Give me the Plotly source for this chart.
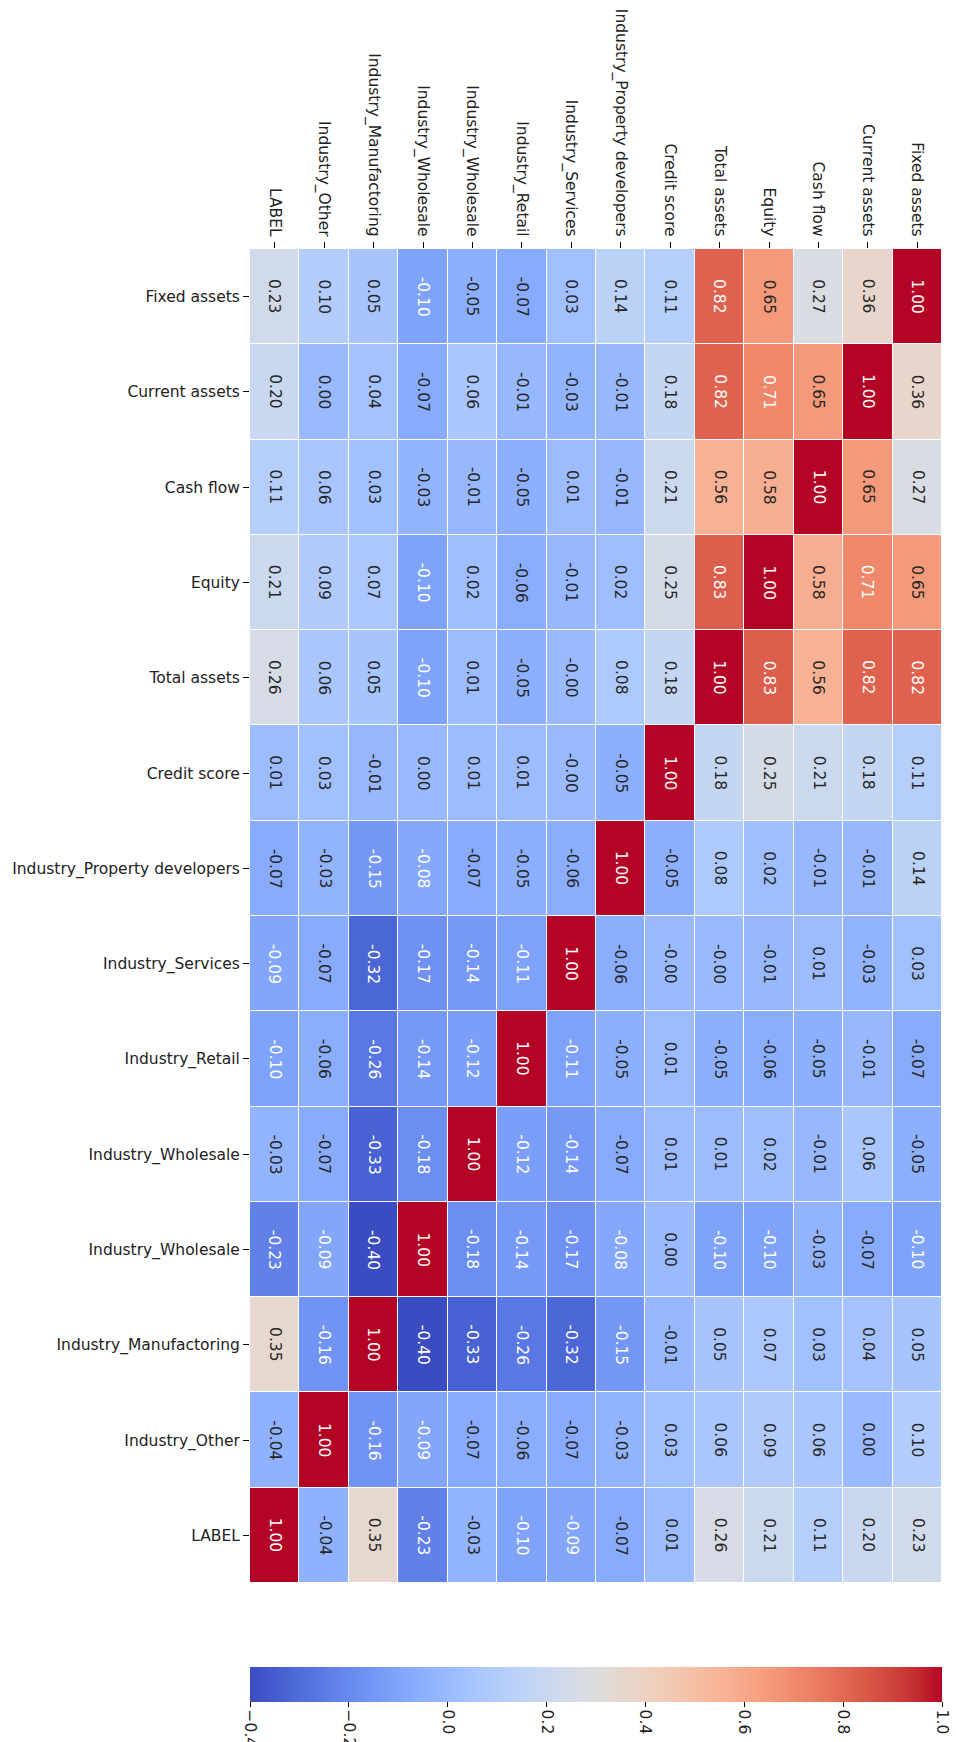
import plotly.graph_objects as go

# Correlation matrix of the credit-scoring features
row_labels = [
    "Fixed assets", "Current assets", "Cash flow", "Equity", "Total assets",
    "Credit score", "Industry_Property developers", "Industry_Services",
    "Industry_Retail", "Industry_Wholesale", "Industry_Wholesale",
    "Industry_Manufactoring", "Industry_Other", "LABEL",
]
col_labels = [
    "LABEL", "Industry_Other", "Industry_Manufactoring", "Industry_Wholesale",
    "Industry_Wholesale", "Industry_Retail", "Industry_Services",
    "Industry_Property developers", "Credit score", "Total assets", "Equity",
    "Cash flow", "Current assets", "Fixed assets",
]

fixed_assets = [0.23, 0.10, 0.05, -0.10, -0.05, -0.07, 0.03, 0.14, 0.11, 0.82, 0.65, 0.27, 0.36, 1.00]
current_assets = [0.20, 0.00, 0.04, -0.07, 0.06, -0.01, -0.03, -0.01, 0.18, 0.82, 0.71, 0.65, 1.00, 0.36]
cash_flow = [0.11, 0.06, 0.03, -0.03, -0.01, -0.05, 0.01, -0.01, 0.21, 0.56, 0.58, 1.00, 0.65, 0.27]
equity = [0.21, 0.09, 0.07, -0.10, 0.02, -0.06, -0.01, 0.02, 0.25, 0.83, 1.00, 0.58, 0.71, 0.65]
total_assets = [0.26, 0.06, 0.05, -0.10, 0.01, -0.05, -0.0, 0.08, 0.18, 1.00, 0.83, 0.56, 0.82, 0.82]
credit_score = [0.01, 0.03, -0.01, 0.00, 0.01, 0.01, -0.0, -0.05, 1.00, 0.18, 0.25, 0.21, 0.18, 0.11]
ind_property = [-0.07, -0.03, -0.15, -0.08, -0.07, -0.05, -0.06, 1.00, -0.05, 0.08, 0.02, -0.01, -0.01, 0.14]
ind_services = [-0.09, -0.07, -0.32, -0.17, -0.14, -0.11, 1.00, -0.06, -0.0, -0.0, -0.01, 0.01, -0.03, 0.03]
ind_retail = [-0.10, -0.06, -0.26, -0.14, -0.12, 1.00, -0.11, -0.05, 0.01, -0.05, -0.06, -0.05, -0.01, -0.07]
ind_wholesale_a = [-0.03, -0.07, -0.33, -0.18, 1.00, -0.12, -0.14, -0.07, 0.01, 0.01, 0.02, -0.01, 0.06, -0.05]
ind_wholesale_b = [-0.23, -0.09, -0.40, 1.00, -0.18, -0.14, -0.17, -0.08, 0.00, -0.10, -0.10, -0.03, -0.07, -0.10]
ind_manufactoring = [0.35, -0.16, 1.00, -0.40, -0.33, -0.26, -0.32, -0.15, -0.01, 0.05, 0.07, 0.03, 0.04, 0.05]
ind_other = [-0.04, 1.00, -0.16, -0.09, -0.07, -0.06, -0.07, -0.03, 0.03, 0.06, 0.09, 0.06, 0.00, 0.10]
label_row = [1.00, -0.04, 0.35, -0.23, -0.03, -0.10, -0.09, -0.07, 0.01, 0.26, 0.21, 0.11, 0.20, 0.23]

corr = [
    fixed_assets, current_assets, cash_flow, equity, total_assets,
    credit_score, ind_property, ind_services, ind_retail, ind_wholesale_a,
    ind_wholesale_b, ind_manufactoring, ind_other, label_row,
]

cbar_ticks = [-0.4, -0.2, 0.0, 0.2, 0.4, 0.6, 0.8, 1.0]
ZMIN, ZMAX = -0.4, 1.0

# Diverging cool-warm colormap (Moreland), 33 evenly spaced stops
cw_rgb = [
    (59, 76, 192), (68, 90, 204), (77, 104, 215), (87, 117, 225), (98, 130, 234),
    (108, 142, 241), (119, 154, 247), (130, 165, 251), (141, 176, 254), (152, 185, 255),
    (163, 194, 255), (174, 201, 253), (184, 208, 249), (194, 213, 244), (204, 217, 238),
    (213, 219, 230), (221, 221, 221), (229, 216, 209), (236, 211, 197), (241, 204, 184),
    (245, 196, 173), (247, 187, 160), (247, 177, 148), (247, 166, 135), (244, 154, 123),
    (241, 141, 111), (236, 127, 99), (229, 112, 88), (222, 96, 77), (213, 80, 66),
    (203, 62, 56), (192, 40, 47), (180, 4, 38),
]
n_stops = len(cw_rgb)
colorscale = [[i / (n_stops - 1), "rgb(%d,%d,%d)" % c] for i, c in enumerate(cw_rgb)]


def cell_rgb(v):
    t = min(max((v - ZMIN) / (ZMAX - ZMIN), 0.0), 1.0) * (n_stops - 1)
    i = min(int(t), n_stops - 2)
    f = t - i
    a, b = cw_rgb[i], cw_rgb[i + 1]
    return [(a[k] + (b[k] - a[k]) * f) / 255.0 for k in range(3)]


def luminance(rgb):
    lin = [c / 12.92 if c <= 0.03928 else ((c + 0.055) / 1.055) ** 2.4 for c in rgb]
    return 0.2126 * lin[0] + 0.7152 * lin[1] + 0.0722 * lin[2]


FONT = "DejaVu Sans"
FS = 15.5
n_rows, n_cols = len(row_labels), len(col_labels)
xs = list(range(n_cols))
ys = list(range(n_rows))

fig = go.Figure(
    go.Heatmap(
        z=corr,
        x=xs,
        y=ys,
        zmin=ZMIN,
        zmax=ZMAX,
        colorscale=colorscale,
        xgap=1,
        ygap=1,
        hoverinfo="skip",
        colorbar=dict(
            orientation="h",
            x=0.5,
            xanchor="center",
            len=1.0,
            lenmode="fraction",
            y=-0.063,
            yanchor="top",
            thickness=35,
            thicknessmode="pixels",
            xpad=0,
            ypad=0,
            outlinewidth=0,
            tickvals=cbar_ticks,
            tickformat=".1f",
            tickangle=90,
            ticks="outside",
            ticklen=5,
            tickcolor="#000",
            tickfont=dict(family=FONT, size=FS, color="#222"),
        ),
    )
)

annotations = []
for r in range(n_rows):
    for c in range(n_cols):
        v = corr[r][c]
        txt_color = "#ffffff" if luminance(cell_rgb(v)) < 0.408 else "#262626"
        annotations.append(
            dict(
                x=xs[c],
                y=ys[r],
                xref="x",
                yref="y",
                text=f"{v:.2f}",
                textangle=90,
                showarrow=False,
                font=dict(family=FONT, size=FS, color=txt_color),
            )
        )

fig.update_layout(
    width=956,
    height=1742,
    margin=dict(l=250, r=14, t=249, b=159, autoexpand=False),
    paper_bgcolor="white",
    plot_bgcolor="white",
    annotations=annotations,
    font=dict(family=FONT, size=FS, color="#222"),
    xaxis=dict(
        side="top",
        range=[-0.5, n_cols - 0.5],
        tickvals=xs,
        ticktext=col_labels,
        tickangle=90,
        ticks="outside",
        ticklen=6,
        tickcolor="#000",
        showgrid=False,
        zeroline=False,
        showline=False,
        tickfont=dict(family=FONT, size=FS, color="#222"),
    ),
    yaxis=dict(
        range=[n_rows - 0.5, -0.5],
        tickvals=ys,
        ticktext=row_labels,
        ticks="outside",
        ticklen=6,
        tickcolor="#000",
        showgrid=False,
        zeroline=False,
        showline=False,
        tickfont=dict(family=FONT, size=FS, color="#222"),
    ),
)

fig.write_html("out.html")
